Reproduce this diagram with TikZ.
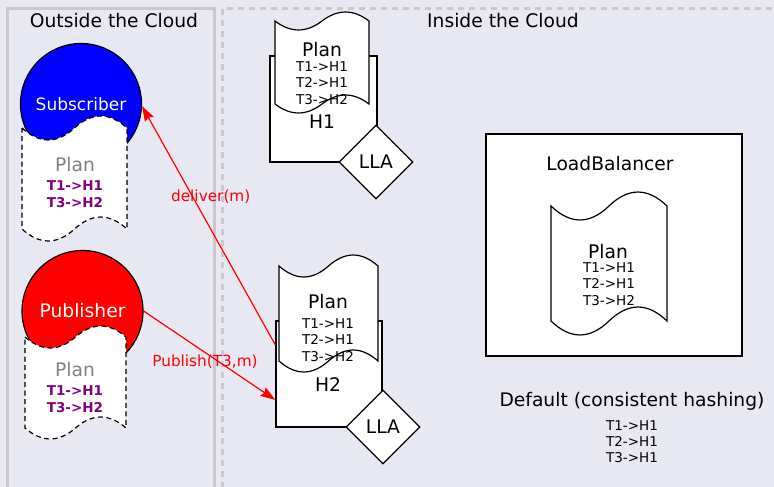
\documentclass[tikz,border=0pt]{standalone}
\usepackage{fontspec}
\setmainfont{DejaVu Sans}
\usetikzlibrary{shapes.geometric,arrows.meta}
\definecolor{bg}{RGB}{232,232,242}
\definecolor{panelgray}{RGB}{200,200,206}
\definecolor{plum}{RGB}{128,0,128}
\newcommand\fbig{\fontsize{18.7}{22}\selectfont}
\newcommand\fsub{\fontsize{17}{20}\selectfont}
\newcommand\fsmall{\fontsize{13.5}{16.5}\selectfont}
\newcommand\flab{\fontsize{15.3}{18}\selectfont}
\begin{document}
\begin{tikzpicture}[x=1pt,y=-1pt,
  box/.style={draw=black,fill=white,line width=1.2pt,inner sep=0pt},
  ball/.style={circle,draw=black,line width=1.2pt,inner sep=0pt,minimum size=121pt,text=white},
  lla/.style={diamond,draw=black,fill=white,line width=1.2pt,inner sep=0pt,minimum width=74pt,minimum height=74pt,font=\fbig},
  big/.style={font=\fbig,inner sep=0pt},
  small/.style={font=\fsmall,align=center,inner sep=0pt},
  planlist/.style={font=\fsmall\bfseries,text=plum,align=center,inner sep=0pt},
  arr/.style={draw=red,line width=1.2pt,-{Stealth[length=15pt,width=10pt,inset=2pt]}},
  lab/.style={font=\flab,text=red,inner sep=0pt},
  pics/tape/.style args={#1/#2/#3}{code={
    \path[pic actions] (0,0) .. controls ({#1/6},{1.33*#3}) and ({#1/3},{1.33*#3}) .. ({#1/2},0)
      .. controls ({2*#1/3},{-1.33*#3}) and ({5*#1/6},{-1.33*#3}) .. (#1,0)
      -- (#1,#2) .. controls ({5*#1/6},{#2-1.33*#3}) and ({2*#1/3},{#2-1.33*#3}) .. ({#1/2},#2)
      .. controls ({#1/3},{#2+1.33*#3}) and ({#1/6},{#2+1.33*#3}) .. (0,#2) -- cycle;
  }},
  solidtape/.style={draw=black,fill=white,line width=1.2pt},
  dashtape/.style={draw=black,fill=white,line width=1.2pt,dash pattern=on 5pt off 3.5pt}
]
\useasboundingbox (0,0) rectangle (774,487);
\clip (0,0) rectangle (774,487);
\fill[bg] (0,0) rectangle (774,487);
% panels
\draw[panelgray,line width=3pt] (7,9) rectangle (214,520);
\draw[panelgray,line width=3pt,dash pattern=on 6pt off 5pt] (222,9) rectangle (800,520);
\node[big] (tout) at (114,21) {Outside the Cloud};
\node[big] (tin) at (503,21) {Inside the Cloud};

% subscriber
\node[ball,fill=blue,font=\fsub] (sub) at (81,104) {Subscriber};
\pic[dashtape] at (22,128) {tape=105/101/12};
\node[big,text=gray] (subplan) at (75,165) {Plan};
\node[planlist,font=\fontsize{13.5}{17}\selectfont\bfseries] (sublist) at (75,194) {T1->H1\\T3->H2};

% publisher
\node[ball,fill=red,font=\fbig] (pub) at (82.5,311) {Publisher};
\pic[dashtape] at (25,337) {tape=101/91/11};
\node[big,text=gray] (pubplan) at (75,370) {Plan};
\node[planlist,font=\fontsize{13.5}{17}\selectfont\bfseries] (publist) at (75,399) {T1->H1\\T3->H2};

% H1
\node[box,minimum width=107pt,minimum height=106pt] (h1box) at (323.5,109) {};
\pic[solidtape] at (275,21) {tape=94/83/9};
\node[big] (h1plan) at (322,50) {Plan};
\node[small] (h1list) at (322,83) {T1->H1\\T2->H1\\T3->H2};
\node[big] (h1) at (322,122) {H1};
\node[lla] (lla1) at (376,162) {LLA};

% H2
\node[box,minimum width=106pt,minimum height=106pt] (h2box) at (329,374) {};
\pic[solidtape] at (279,266) {tape=99/95/11};
\node[big] (h2plan) at (328,302) {Plan};
\node[small] (h2list) at (328,340) {T1->H1\\T2->H1\\T3->H2};
\node[big] (h2) at (328,385) {H2};
\node[lla] (lla2) at (383,427) {LLA};

% LoadBalancer
\node[box,minimum width=256pt,minimum height=222pt] (lb) at (614,245) {};
\node[big] (lbt) at (610,164) {LoadBalancer};
\pic[solidtape] at (551,206) {tape=116/115/14};
\node[big] (lbplan) at (608,252) {Plan};
\node[small] (lblist) at (609,284) {T1->H1\\T2->H1\\T3->H2};

% default
\node[big] (def) at (632,401) {Default (consistent hashing)};
\node[small,font=\fontsize{13.5}{16}\selectfont] (deflist) at (632,442) {T1->H1\\T2->H1\\T3->H1};

% arrows
\draw[arr] ([yshift=29pt]h2box.west) -- node[lab,pos=0.62,xshift=18pt] {deliver(m)} (sub.-2);
\draw[arr] (pub.east) -- node[lab,pos=0.466,yshift=-9pt] {Publish(T3,m)} ([yshift=-26pt]h2box.west);
\end{tikzpicture}
\end{document}
